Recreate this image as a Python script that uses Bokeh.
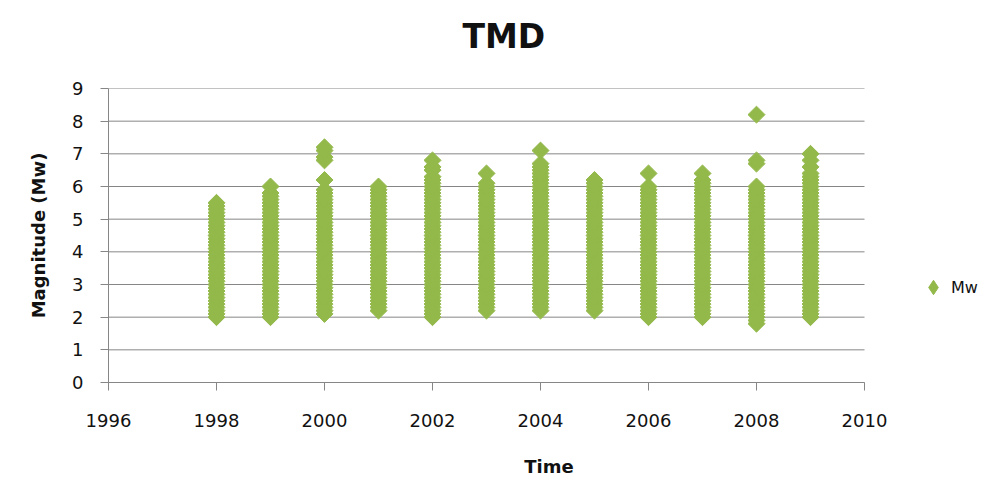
from bokeh.plotting import figure
from bokeh.models import Legend, LegendItem, FixedTicker, ColumnDataSource, Title
from bokeh.embed import file_html
from bokeh.resources import INLINE
import numpy as np

# ---- data (magnitudes per year) ----
years = [1998, 1999, 2000, 2001, 2002, 2003, 2004, 2005, 2006, 2007, 2008, 2009]

mw_1998 = [2.0, 2.1, 2.2, 2.3, 2.4, 2.5, 2.6, 2.7, 2.8, 2.9, 3.0, 3.1, 3.2, 3.3, 3.4, 3.5, 3.6, 3.7,
           3.8, 3.9, 4.0, 4.1, 4.2, 4.3, 4.4, 4.5, 4.6, 4.7, 4.8, 4.9, 5.0, 5.1, 5.2, 5.3, 5.4, 5.5]
mw_1999 = [2.0, 2.1, 2.2, 2.3, 2.4, 2.5, 2.6, 2.7, 2.8, 2.9, 3.0, 3.1, 3.2, 3.3, 3.4, 3.5, 3.6, 3.7,
           3.8, 3.9, 4.0, 4.1, 4.2, 4.3, 4.4, 4.5, 4.6, 4.7, 4.8, 4.9, 5.0, 5.1, 5.2, 5.3, 5.4, 5.5,
           5.6, 5.7, 5.8, 6.0]
mw_2000 = [2.1, 2.2, 2.3, 2.4, 2.5, 2.6, 2.7, 2.8, 2.9, 3.0, 3.1, 3.2, 3.3, 3.4, 3.5, 3.6, 3.7,
           3.8, 3.9, 4.0, 4.1, 4.2, 4.3, 4.4, 4.5, 4.6, 4.7, 4.8, 4.9, 5.0, 5.1, 5.2, 5.3, 5.4, 5.5,
           5.6, 5.7, 5.8, 5.9, 6.2, 6.8, 6.9, 7.1, 7.2]
mw_2001 = [2.2, 2.3, 2.4, 2.5, 2.6, 2.7, 2.8, 2.9, 3.0, 3.1, 3.2, 3.3, 3.4, 3.5, 3.6, 3.7,
           3.8, 3.9, 4.0, 4.1, 4.2, 4.3, 4.4, 4.5, 4.6, 4.7, 4.8, 4.9, 5.0, 5.1, 5.2, 5.3, 5.4, 5.5,
           5.6, 5.7, 5.8, 5.9, 6.0]
mw_2002 = [2.0, 2.1, 2.2, 2.3, 2.4, 2.5, 2.6, 2.7, 2.8, 2.9, 3.0, 3.1, 3.2, 3.3, 3.4, 3.5, 3.6, 3.7,
           3.8, 3.9, 4.0, 4.1, 4.2, 4.3, 4.4, 4.5, 4.6, 4.7, 4.8, 4.9, 5.0, 5.1, 5.2, 5.3, 5.4, 5.5,
           5.6, 5.7, 5.8, 5.9, 6.0, 6.1, 6.2, 6.3, 6.5, 6.6, 6.8]
mw_2003 = [2.2, 2.3, 2.4, 2.5, 2.6, 2.7, 2.8, 2.9, 3.0, 3.1, 3.2, 3.3, 3.4, 3.5, 3.6, 3.7,
           3.8, 3.9, 4.0, 4.1, 4.2, 4.3, 4.4, 4.5, 4.6, 4.7, 4.8, 4.9, 5.0, 5.1, 5.2, 5.3, 5.4, 5.5,
           5.6, 5.7, 5.8, 5.9, 6.0, 6.1, 6.4]
mw_2004 = [2.2, 2.3, 2.4, 2.5, 2.6, 2.7, 2.8, 2.9, 3.0, 3.1, 3.2, 3.3, 3.4, 3.5, 3.6, 3.7,
           3.8, 3.9, 4.0, 4.1, 4.2, 4.3, 4.4, 4.5, 4.6, 4.7, 4.8, 4.9, 5.0, 5.1, 5.2, 5.3, 5.4, 5.5,
           5.6, 5.7, 5.8, 5.9, 6.0, 6.1, 6.2, 6.3, 6.4, 6.5, 6.6, 6.7, 7.1]
mw_2005 = [2.2, 2.3, 2.4, 2.5, 2.6, 2.7, 2.8, 2.9, 3.0, 3.1, 3.2, 3.3, 3.4, 3.5, 3.6, 3.7,
           3.8, 3.9, 4.0, 4.1, 4.2, 4.3, 4.4, 4.5, 4.6, 4.7, 4.8, 4.9, 5.0, 5.1, 5.2, 5.3, 5.4, 5.5,
           5.6, 5.7, 5.8, 5.9, 6.0, 6.1, 6.2]
mw_2006 = [2.0, 2.1, 2.2, 2.3, 2.4, 2.5, 2.6, 2.7, 2.8, 2.9, 3.0, 3.1, 3.2, 3.3, 3.4, 3.5, 3.6, 3.7,
           3.8, 3.9, 4.0, 4.1, 4.2, 4.3, 4.4, 4.5, 4.6, 4.7, 4.8, 4.9, 5.0, 5.1, 5.2, 5.3, 5.4, 5.5,
           5.6, 5.7, 5.8, 5.9, 6.0, 6.4]
mw_2007 = [2.0, 2.1, 2.2, 2.3, 2.4, 2.5, 2.6, 2.7, 2.8, 2.9, 3.0, 3.1, 3.2, 3.3, 3.4, 3.5, 3.6, 3.7,
           3.8, 3.9, 4.0, 4.1, 4.2, 4.3, 4.4, 4.5, 4.6, 4.7, 4.8, 4.9, 5.0, 5.1, 5.2, 5.3, 5.4, 5.5,
           5.6, 5.7, 5.8, 5.9, 6.0, 6.1, 6.2, 6.4]
mw_2008 = [1.8, 1.9, 2.0, 2.1, 2.2, 2.3, 2.4, 2.5, 2.6, 2.7, 2.8, 2.9, 3.0, 3.1, 3.2, 3.3, 3.4, 3.5,
           3.6, 3.7, 3.8, 3.9, 4.0, 4.1, 4.2, 4.3, 4.4, 4.5, 4.6, 4.7, 4.8, 4.9, 5.0, 5.1, 5.2, 5.3,
           5.4, 5.5, 5.6, 5.7, 5.8, 5.9, 6.0, 6.7, 6.8, 8.2]
mw_2009 = [2.0, 2.1, 2.2, 2.3, 2.4, 2.5, 2.6, 2.7, 2.8, 2.9, 3.0, 3.1, 3.2, 3.3, 3.4, 3.5, 3.6, 3.7,
           3.8, 3.9, 4.0, 4.1, 4.2, 4.3, 4.4, 4.5, 4.6, 4.7, 4.8, 4.9, 5.0, 5.1, 5.2, 5.3, 5.4, 5.5,
           5.6, 5.7, 5.8, 5.9, 6.0, 6.1, 6.2, 6.3, 6.4, 6.6, 6.8, 7.0]

per_year = [mw_1998, mw_1999, mw_2000, mw_2001, mw_2002, mw_2003,
            mw_2004, mw_2005, mw_2006, mw_2007, mw_2008, mw_2009]

x_ticks = [1996, 1998, 2000, 2002, 2004, 2006, 2008, 2010]
y_ticks = [0, 1, 2, 3, 4, 5, 6, 7, 8, 9]

xs, ys = [], []
for yr, vals in zip(years, per_year):
    xs.extend([yr] * len(vals))
    ys.extend(vals)
src = ColumnDataSource(dict(x=xs, y=ys))

FONT = "DejaVu Sans"
GREEN = "#93B94B"
GRID = "#868686"
TXT = "#111111"

X0, X1 = x_ticks[0], x_ticks[-1]
Y0, Y1 = y_ticks[0], y_ticks[-1]
PX_PER_YEAR = 54.0
FRAME_W = 881

# frame extends to the right edge so the legend can sit inside it;
# the x axis itself is bounded to the 1996-2010 span
p = figure(frame_width=FRAME_W, frame_height=294,
           x_range=(X0, X0 + FRAME_W / PX_PER_YEAR), y_range=(Y0, Y1),
           output_backend="svg", toolbar_location=None,
           min_border_left=108, min_border_right=0, min_border_top=88, min_border_bottom=92)
p.outline_line_color = None
p.background_fill_color = "white"
p.border_fill_color = "white"

# chart title (outermost in the top panel)
p.title.text = "TMD"
p.title.align = "left"
p.title.offset = 354
p.title.standoff = 0
p.title.text_font = FONT
p.title.text_font_style = "bold"
p.title.text_font_size = "33px"
p.title.text_color = TXT
# blank spacer between the chart title and the frame
p.add_layout(Title(text="\u00a0", text_font_size="16px", standoff=14), "above")

# horizontal gridlines only across the plotted span
p.segment(x0=[X0] * len(y_ticks), x1=[X1] * len(y_ticks), y0=y_ticks, y1=y_ticks,
          line_color=GRID, line_width=1)

r = p.scatter("x", "y", source=src, marker="square", angle=np.pi / 4, size=12,
              fill_color=GREEN, line_color=GREEN, line_width=1)
# legend swatch renderer (diamond shape, hidden on the plot)
r_leg = p.scatter(x=xs[:1], y=ys[:1], marker="diamond", fill_color=GREEN, line_color=GREEN,
                  visible=False)

p.xgrid.grid_line_color = None
p.ygrid.grid_line_color = None

p.xaxis.ticker = FixedTicker(ticks=x_ticks)
p.yaxis.ticker = FixedTicker(ticks=y_ticks)
p.xaxis.bounds = (X0, X1)
for ax in (p.xaxis, p.yaxis):
    ax.axis_line_color = GRID
    ax.major_tick_line_color = GRID
    ax.minor_tick_line_color = None
    ax.major_tick_out = 8
    ax.major_tick_in = 0
    ax.major_label_text_font = FONT
    ax.major_label_text_font_size = "18px"
    ax.major_label_text_color = TXT
    ax.axis_label_text_font = FONT
    ax.axis_label_text_font_style = "bold"
    ax.axis_label_text_font_size = "18px"
    ax.axis_label_text_color = TXT

p.xaxis.axis_label = "Time"
p.xaxis.major_label_standoff = 23
p.xaxis.axis_label_standoff = 26
p.yaxis.axis_label = "Magnitude (Mw)"
p.yaxis.major_label_standoff = 17
p.yaxis.axis_label_standoff = 20

legend = Legend(items=[LegendItem(label="Mw", renderers=[r_leg])], location=(807, 77),
                padding=0, margin=0, spacing=0, glyph_width=36, glyph_height=36,
                label_standoff=0, border_line_color=None, background_fill_alpha=0,
                inactive_fill_alpha=0,
                label_text_font=FONT, label_text_font_size="16px", label_text_color=TXT)
p.add_layout(legend, "center")

open("out.html", "w").write(file_html(p, INLINE))
